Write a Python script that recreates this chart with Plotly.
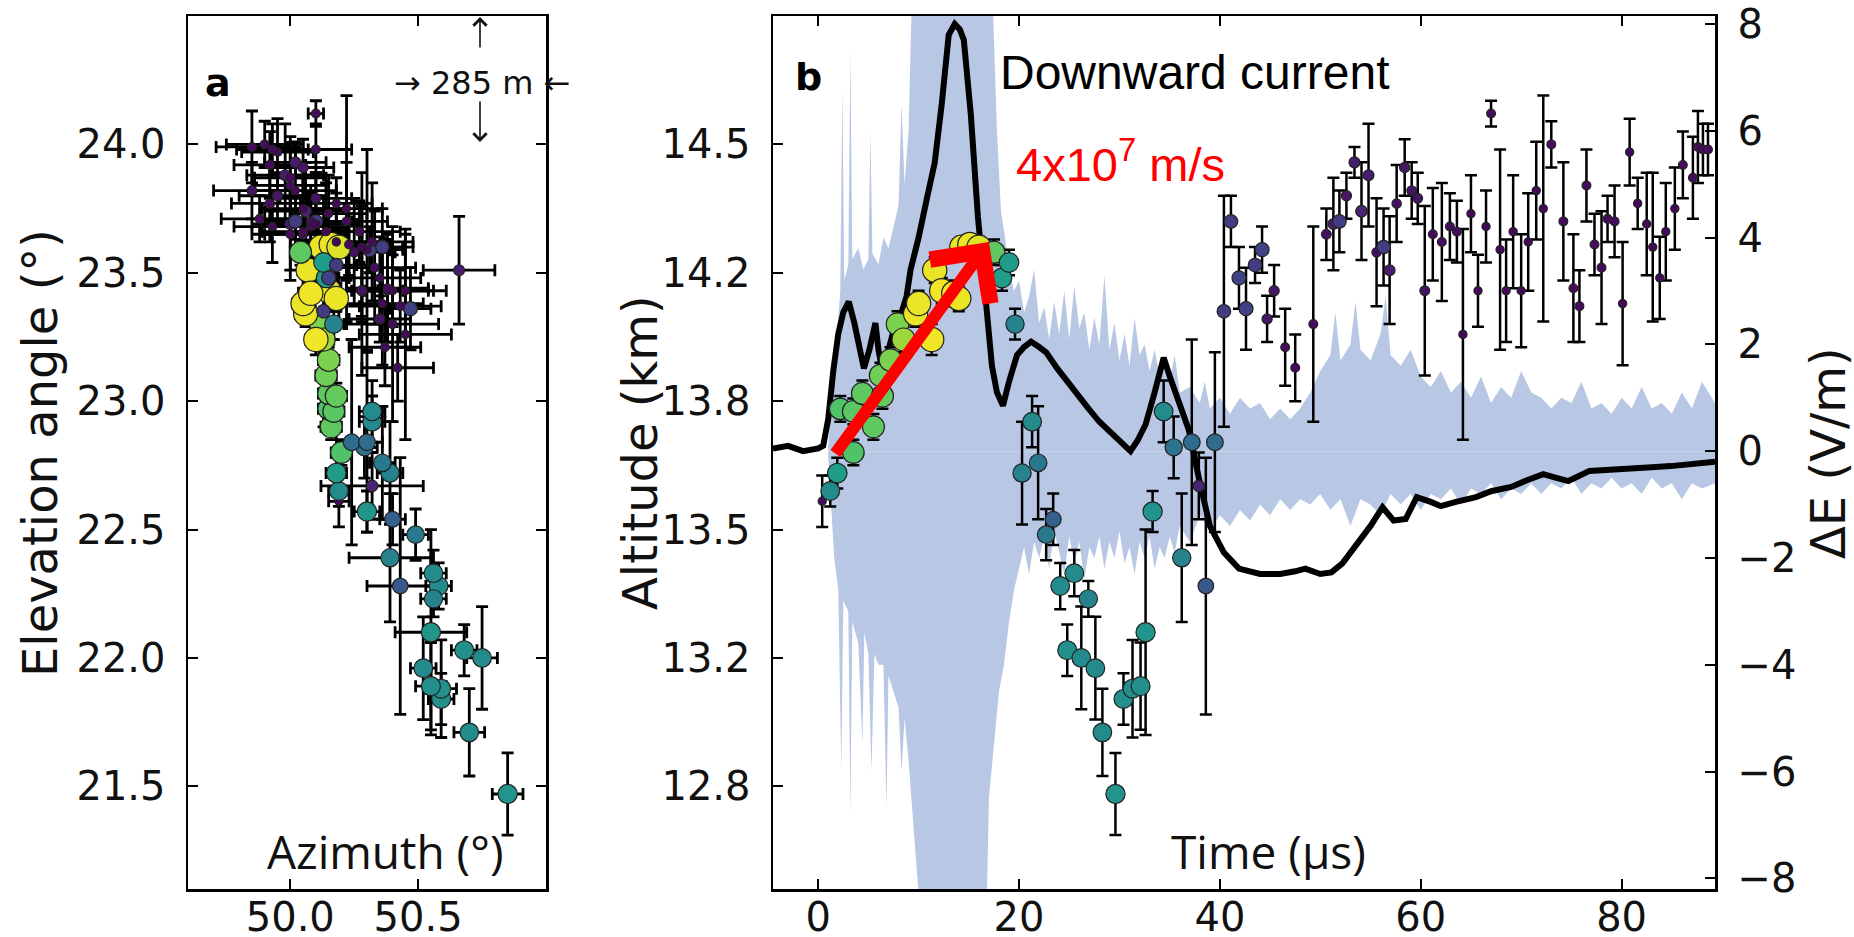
import math
import plotly.graph_objects as go

W, H = 1854, 937

# ---------------- source data (time, elevation, azimuth, errors, power) ----------------
src_t = [0.4, 1.2, 1.9, 3.5, 5.5, 2.2, 3.5, 4.4, 6.4, 6.2, 7.2, 7.9, 8.5, 9.7, 10.0, 11.3, 11.6, 12.3,
         13.5, 14.0, 14.3, 15.1, 16.0, 17.5, 18.3, 19.0, 19.6,
         20.3, 21.3, 21.9, 22.7, 23.4, 24.1, 25.5, 26.9, 24.8, 26.2, 27.6, 28.3, 29.6, 30.4, 31.3, 32.1,
         32.6, 33.3, 34.4, 35.4, 36.2, 37.2, 37.9, 38.6, 39.5,
         40.4, 41.1, 41.9, 42.6, 43.5, 44.2, 44.7, 45.4, 46.5, 47.5, 49.3, 50.6, 51.3, 51.9, 52.6, 53.4,
         54.1, 54.8, 55.6, 56.3, 56.9, 57.6, 58.4, 59.1, 59.7, 60.4, 61.2, 62.1, 62.9, 63.6, 64.2, 65.0,
         65.7, 66.5, 67.0, 67.9, 68.5, 69.2, 70.0, 70.7, 71.5, 72.2, 73.0, 74.2, 75.2, 75.8, 76.5, 77.3,
         78.0, 78.6, 79.3, 80.1, 80.8, 81.6, 82.5, 83.1, 83.8, 84.4, 85.3, 86.1, 87.1, 87.6, 88.1, 88.6]
src_elev = [22.61, 22.65, 22.72, 22.80, 22.90, 22.97, 22.96, 23.03, 23.02, 23.10, 23.16, 23.30, 23.24, 23.34,
            23.38, 23.24, 23.51, 23.43, 23.42, 23.40, 23.60, 23.61, 23.60, 23.58, 23.48, 23.54, 23.30,
            22.72, 22.92, 22.76, 22.48, 22.54, 22.28, 22.33, 22.23, 22.03, 22.00, 21.96, 21.71, 21.47, 21.84,
            21.88, 21.89, 22.10, 22.57, 22.96, 22.82, 22.39, 22.84, 22.67, 22.28, 22.84,
            23.35, 23.70, 23.48, 23.36, 23.53, 23.59, 23.32, 23.43, 23.21, 23.13, 23.30, 23.65, 23.69, 23.70,
            23.80, 23.93, 23.74, 23.88, 23.58, 23.60, 23.51, 23.77, 23.91, 23.82, 23.79, 23.43, 23.65, 23.62,
            23.68, 23.66, 23.26, 23.73, 23.43, 23.68, 24.12, 23.59, 23.43, 23.66, 23.43, 23.62, 23.82, 23.75,
            24.00, 23.70, 23.44, 23.37, 23.84, 23.61, 23.52, 23.71, 23.70, 23.38, 23.97, 23.77, 23.69, 23.60,
            23.48, 23.66, 23.75, 23.92, 23.87, 23.99, 23.98, 23.98]
src_elev_err = [0.10, 0.06, 0.06, 0.05, 0.05, 0.05, 0.05, 0.05, 0.05, 0.05, 0.05, 0.05, 0.05, 0.05, 0.05, 0.06,
                0.05, 0.05, 0.05, 0.05, 0.04, 0.04, 0.04, 0.05, 0.05, 0.05, 0.06,
                0.20, 0.10, 0.22, 0.10, 0.10, 0.09, 0.09, 0.07, 0.10, 0.20, 0.20, 0.17, 0.16, 0.10, 0.19, 0.17,
                0.40, 0.08, 0.12, 0.12, 0.25, 0.40, 0.13, 0.50, 0.35,
                0.45, 0.10, 0.12, 0.16, 0.07, 0.09, 0.09, 0.10, 0.15, 0.13, 0.38, 0.10, 0.18, 0.12, 0.09, 0.06,
                0.19, 0.20, 0.21, 0.15, 0.21, 0.15, 0.11, 0.11, 0.10, 0.33, 0.18, 0.23, 0.13, 0.12, 0.41, 0.15,
                0.14, 0.14, 0.05, 0.39, 0.20, 0.22, 0.22, 0.19, 0.19, 0.44, 0.09, 0.23, 0.21, 0.14, 0.14, 0.12,
                0.22, 0.09, 0.14, 0.24, 0.13, 0.10, 0.20, 0.29, 0.16, 0.19, 0.16, 0.13, 0.16, 0.14, 0.10, 0.10]
src_azim = [50.19, 50.19, 50.18, 50.20, 50.16, 50.15, 50.17, 50.15, 50.18, 50.14, 50.15, 50.12, 50.13, 50.06,
            50.05, 50.10, 50.07, 50.15, 50.08, 50.18, 50.12, 50.16, 50.19, 50.04, 50.14, 50.13, 50.17,
            50.39, 50.32, 50.36, 50.49, 50.40, 50.58, 50.56, 50.56, 50.68, 50.75, 50.52, 50.70, 50.85, 50.59,
            50.59, 50.55, 50.55, 50.30, 50.32, 50.29, 50.39, 50.24, 50.32, 50.43, 50.30,
            50.13, 50.10, 50.15, 50.47, 50.18, 50.31, 50.35, 50.28, 50.37, 50.42, 50.40, 50.05, 50.00, 50.02,
            49.95, 50.02, 50.06, 49.98, 50.25, 50.36, 50.66, 49.92, 50.05, 49.85, 50.10, 50.28, 50.00, 50.32,
            50.08, 50.27, 50.45, 50.15, 50.40, 49.93, 50.10, 50.30, 50.38, 50.05, 50.45, 50.18, 50.02, 50.22,
            49.90, 50.22, 50.38, 50.43, 50.00, 50.23, 50.33, 49.88, 50.08, 50.36, 49.95, 50.18, 50.10, 50.28,
            50.35, 50.14, 50.05, 49.92, 50.00, 49.85, 49.93, 50.10]
src_azim_err = [0.04, 0.04, 0.04, 0.04, 0.04, 0.04, 0.04, 0.04, 0.04, 0.04, 0.04, 0.04, 0.04, 0.04, 0.04, 0.04,
                0.04, 0.04, 0.04, 0.04, 0.04, 0.04, 0.04, 0.04, 0.04, 0.04, 0.04,
                0.05, 0.05, 0.05, 0.05, 0.05, 0.05, 0.05, 0.05, 0.05, 0.06, 0.05, 0.06, 0.06, 0.05, 0.06, 0.06,
                0.14, 0.05, 0.05, 0.05, 0.16, 0.06, 0.20, 0.13, 0.06,
                0.06, 0.08, 0.08, 0.08, 0.08, 0.08, 0.12, 0.12, 0.14, 0.14, 0.18, 0.15, 0.15, 0.12, 0.15, 0.12,
                0.16, 0.15, 0.16, 0.12, 0.14, 0.15, 0.12, 0.15, 0.14, 0.16, 0.15, 0.16, 0.14, 0.16, 0.18, 0.15,
                0.16, 0.15, 0.03, 0.14, 0.16, 0.16, 0.16, 0.14, 0.16, 0.14, 0.15, 0.16, 0.16, 0.16, 0.14, 0.16,
                0.16, 0.15, 0.16, 0.16, 0.14, 0.14, 0.16, 0.16, 0.16, 0.14, 0.16, 0.14, 0.14, 0.14, 0.14, 0.14]
src_power = [0.02, 0.48, 0.55, 0.72, 0.75, 0.72, 0.74, 0.75, 0.76, 0.78, 0.80, 0.80, 0.85, 0.97, 0.97, 0.98,
             0.97, 0.98, 0.98, 0.97, 0.97, 0.97, 0.95, 0.75, 0.55, 0.55, 0.45,
             0.45, 0.48, 0.40, 0.40, 0.30, 0.48, 0.48, 0.45, 0.50, 0.48, 0.48, 0.48, 0.52, 0.50, 0.50, 0.50,
             0.52, 0.52, 0.48, 0.38, 0.45, 0.35, 0.10, 0.28, 0.35,
             0.18, 0.18, 0.20, 0.20, 0.18, 0.20, 0.06, 0.06, 0.03, 0.03, 0.03, 0.05, 0.08, 0.18, 0.06, 0.08,
             0.10, 0.08, 0.04, 0.18, 0.08, 0.04, 0.06, 0.05, 0.05, 0.05, 0.03, 0.03, 0.03, 0.03, 0.02, 0.02,
             0.02, 0.02, 0.03, 0.02, 0.02, 0.02, 0.02, 0.02, 0.02, 0.02, 0.03, 0.03, 0.03, 0.03, 0.03, 0.03,
             0.03, 0.03, 0.03, 0.02, 0.02, 0.02, 0.02, 0.02, 0.02, 0.02, 0.02, 0.03, 0.03, 0.03, 0.03, 0.03]

# ---------------- electric field change (black line, right axis) ----------------
de_t = [-4.5, -3.0, -1.5, 0.0, 0.5, 1.0, 1.5, 2.0, 2.5, 3.05, 3.6, 4.1, 4.55, 5.1, 5.7, 6.0, 6.4, 7.0, 7.7,
        8.3, 8.8, 9.2, 10.0, 10.9, 11.6, 12.3, 13.0, 13.6, 14.1, 14.5, 15.2, 15.9, 16.6, 17.3, 17.8, 18.4,
        19.0, 19.8, 20.5, 21.2, 22.0, 22.7, 23.8, 24.8, 25.8, 26.9, 28.0, 29.1, 30.1, 31.1, 31.8, 32.6, 33.5,
        34.4, 35.1, 35.8, 36.9, 37.9, 39.0, 40.4, 41.9, 44.0, 46.0, 47.5, 48.5, 50.0, 51.1, 52.2, 53.2, 54.0,
        55.0, 56.2, 57.3, 58.5, 59.6, 61.0, 62.0, 63.5, 65.5, 67.0, 69.0, 70.5, 72.2, 73.5, 74.7, 76.8, 78.0,
        79.5, 81.4, 83.0, 84.9, 87.0, 88.8, 89.3]
de_val = [0.05, 0.1, 0.0, 0.05, 0.1, 0.6, 1.5, 2.2, 2.6, 2.8, 2.4, 1.9, 1.55, 1.9, 2.4, 1.9, 1.5, 1.9, 2.4,
          2.6, 2.9, 3.4, 4.0, 4.8, 5.4, 6.5, 7.8, 8.0, 7.9, 7.7, 6.3, 4.4, 2.85, 1.6, 1.1, 0.85, 1.3, 1.8, 1.95,
          2.05, 1.95, 1.85, 1.55, 1.3, 1.05, 0.8, 0.55, 0.35, 0.15, 0.0, 0.2, 0.5, 1.1, 1.75, 1.35, 0.95, 0.4,
          -0.5, -1.4, -1.9, -2.2, -2.3, -2.3, -2.25, -2.2, -2.3, -2.27, -2.1, -1.85, -1.65, -1.4, -1.05, -1.3,
          -1.27, -0.86, -0.95, -1.03, -0.95, -0.86, -0.75, -0.67, -0.55, -0.43, -0.5, -0.56, -0.37, -0.36,
          -0.34, -0.34, -0.3, -0.28, -0.24, -0.2, -0.2]

# ---------------- light-blue signal envelope (right axis) ----------------
band_hi_t = [1.0, 1.4, 1.8, 2.2, 2.4, 2.6, 3.0, 3.2, 3.4, 4.0, 4.5, 5.0, 5.2, 5.4, 6.0, 6.5, 7.0, 7.5, 8.0,
             8.3, 8.6, 9.0, 9.3, 17.4, 17.8, 18.2, 18.6, 19.0, 19.5, 20.0, 20.5, 21.0, 21.5, 22.0, 22.5, 23.0,
             23.5, 24.0, 24.5, 25.0, 25.5, 26.0, 26.5, 27.0, 27.5, 28.0, 28.5, 29.0, 29.5, 30.0, 30.5, 31.0,
             31.5, 32.0, 32.5, 33.0, 33.5, 34.0, 34.5, 35.0, 35.5, 36.0, 37.0, 38.0, 38.5, 39.0, 40.0, 41.0,
             42.0, 43.0, 44.0, 45.0, 46.0, 47.0, 48.0, 49.0, 50.0, 51.0, 51.5, 52.0, 53.0, 53.5, 54.0, 55.0,
             56.0, 56.5, 57.0, 58.0, 59.0, 60.0, 61.0, 62.0, 63.0, 64.0, 65.0, 66.0, 67.0, 68.0, 69.0, 70.0,
             71.0, 72.0, 73.0, 74.0, 75.0, 76.0, 77.0, 78.0, 79.0, 80.0, 81.0, 82.0, 83.0, 84.0, 85.0, 86.0,
             87.0, 88.0, 89.3]
band_hi = [0.1, 1.0, 2.0, 3.0, 6.8, 3.2, 3.5, 7.5, 3.6, 3.8, 3.4, 3.6, 6.0, 3.7, 3.5, 4.0, 3.8, 4.2, 4.6,
           6.5, 5.0, 6.0, 8.3, 8.3, 6.0, 4.5, 4.0, 3.4, 3.0, 3.2, 2.6, 2.9, 3.4, 2.4, 2.7, 2.1, 2.8, 2.2, 3.0,
           2.1, 3.1, 2.3, 2.6, 1.9, 2.5, 2.0, 3.3, 1.9, 2.4, 1.7, 2.2, 1.6, 2.5, 1.8, 2.0, 1.5, 1.9, 1.4, 1.7,
           1.3, 1.8, 1.1, 1.2, 0.9, 1.3, 0.8, 1.0, 0.7, 1.0, 0.8, 0.9, 0.6, 0.8, 0.6, 0.8, 1.1, 1.5, 1.8, 2.6,
           1.7, 2.0, 2.8, 1.9, 1.7, 2.2, 2.9, 1.8, 1.6, 1.9, 1.4, 1.2, 1.5, 1.1, 1.3, 1.0, 1.4, 0.9, 1.2, 1.0,
           1.5, 1.1, 1.0, 0.8, 1.0, 0.9, 1.3, 0.8, 0.9, 0.7, 1.0, 0.8, 1.2, 0.8, 0.9, 0.7, 1.1, 0.8, 1.3, 0.9]
band_lo_t = [1.0, 1.3, 1.6, 2.0, 2.3, 2.5, 3.0, 3.2, 3.4, 4.0, 4.4, 4.6, 5.0, 5.3, 5.6, 6.0, 6.5, 6.8, 7.0,
             7.5, 8.0, 8.3, 8.6, 9.0, 9.5, 10.0, 16.8, 17.0, 17.5, 18.0, 18.5, 19.0, 19.5, 20.0, 20.5, 21.0,
             21.5, 22.0, 22.5, 23.0, 23.5, 24.0, 24.5, 25.0, 25.5, 26.0, 26.5, 27.0, 27.5, 28.0, 28.5, 29.0,
             29.5, 30.0, 30.5, 31.0, 31.5, 32.0, 32.5, 33.0, 33.5, 34.0, 34.5, 35.0, 35.5, 36.0, 37.0, 38.0,
             39.0, 40.0, 41.0, 42.0, 43.0, 44.0, 45.0, 46.0, 47.0, 48.0, 49.0, 50.0, 51.0, 52.0, 53.0, 54.0,
             55.0, 56.0, 57.0, 58.0, 59.0, 60.0, 61.0, 62.0, 63.0, 64.0, 65.0, 66.0, 67.0, 68.0, 69.0, 70.0,
             71.0, 72.0, 73.0, 74.0, 75.0, 76.0, 77.0, 78.0, 79.0, 80.0, 81.0, 82.0, 83.0, 84.0, 85.0, 86.0,
             87.0, 88.0, 89.3]
band_lo = [-0.1, -1.0, -2.0, -2.6, -6.0, -2.8, -3.0, -6.8, -3.2, -3.6, -5.5, -3.4, -3.8, -6.0, -3.8, -4.0,
           -4.0, -6.7, -4.2, -4.5, -4.8, -6.0, -5.0, -5.8, -7.0, -8.3, -8.3, -6.5, -5.5, -4.5, -4.0, -3.2, -2.6,
           -2.2, -1.8, -2.3, -1.7, -2.0, -1.6, -2.2, -1.5, -1.9, -2.3, -1.6, -2.1, -1.7, -2.4, -1.8, -2.0, -1.6,
           -2.2, -1.7, -2.0, -1.5, -2.1, -1.8, -2.3, -1.7, -2.0, -1.6, -2.2, -1.8, -2.0, -1.6, -1.9, -1.4, -1.7,
           -1.2, -1.5, -1.2, -1.4, -1.1, -1.3, -1.0, -1.2, -0.9, -1.1, -0.9, -1.0, -0.8, -1.1, -0.9, -1.4, -0.9,
           -1.0, -1.2, -0.8, -1.0, -0.8, -1.1, -0.8, -0.9, -0.7, -1.0, -0.7, -0.8, -0.6, -0.9, -0.7, -0.8, -0.6,
           -0.8, -0.6, -0.7, -0.5, -0.8, -0.6, -0.7, -0.5, -0.7, -0.6, -0.8, -0.5, -0.7, -0.6, -0.9, -0.6, -0.7,
           -0.6]

# ---------------- axis ticks ----------------
azim_ticks = [50.0, 50.5]
elev_ticks = [21.5, 22.0, 22.5, 23.0, 23.5, 24.0]
alt_tick_labels = ["12.8", "13.2", "13.5", "13.8", "14.2", "14.5"]
time_ticks = [0, 20, 40, 60, 80]
de_ticks = [-8, -6, -4, -2, 0, 2, 4, 6, 8]

# arrow (velocity estimate) from / to, in (time, elevation)
arrow_from = (1.6, 22.79)
arrow_to = (17.0, 23.62)

# ---------------- helpers ----------------
def fx(px):
    return px / W

def fy(py):
    return 1 - py / H

sizes = [5.5 + 19 * math.sqrt(p) for p in src_power]
TICKFONT = dict(family="DejaVu Sans", size=40, color="#111")

def ax_style(**kw):
    d = dict(showline=True, linecolor="black", linewidth=2.5, ticks="inside", ticklen=10,
             tickwidth=2, tickcolor="black", showgrid=False, zeroline=False, tickfont=TICKFONT,
             ticklabelstandoff=12, automargin=False)
    d.update(kw)
    return d

marker_common = dict(color=src_power, colorscale="Viridis", cmin=0, cmax=1, size=sizes,
                     line=dict(color="#222222", width=1.2), opacity=1)

fig = go.Figure()

# Panel a: azimuth vs elevation
fig.add_trace(go.Scatter(
    x=src_azim, y=src_elev, mode="markers", xaxis="x", yaxis="y",
    error_x=dict(type="data", array=src_azim_err, color="black", thickness=2.8, width=6),
    error_y=dict(type="data", array=src_elev_err, color="black", thickness=2.8, width=6),
    marker=marker_common, hoverinfo="skip"))

# Panel b: band (upper and lower envelopes), on ΔE axis
band_color = "rgb(184,200,228)"
fig.add_trace(go.Scatter(x=band_hi_t, y=band_hi, xaxis="x2", yaxis="y2", mode="lines",
                         line=dict(width=0, color=band_color), fill="tozeroy", fillcolor=band_color,
                         hoverinfo="skip"))
fig.add_trace(go.Scatter(x=band_lo_t, y=band_lo, xaxis="x2", yaxis="y2", mode="lines",
                         line=dict(width=0, color=band_color), fill="tozeroy", fillcolor=band_color,
                         hoverinfo="skip"))
# ΔE black line
fig.add_trace(go.Scatter(x=de_t, y=de_val, xaxis="x2", yaxis="y2", mode="lines",
                         line=dict(color="black", width=6), hoverinfo="skip"))
# sources in time (on elevation axis overlaying)
fig.add_trace(go.Scatter(
    x=src_t, y=src_elev, mode="markers", xaxis="x2", yaxis="y3",
    error_y=dict(type="data", array=src_elev_err, color="black", thickness=2.5, width=6),
    marker=marker_common, hoverinfo="skip"))

dom_y = [fy(889), fy(16)]
fig.update_layout(
    width=W, height=H, margin=dict(l=0, r=0, t=0, b=0, autoexpand=False),
    paper_bgcolor="white", plot_bgcolor="white", showlegend=False,
    xaxis=ax_style(domain=[fx(188), fx(546)], range=[49.6, 51.0], tickvals=azim_ticks,
                   ticktext=[f"{v:.1f}" for v in azim_ticks], mirror="ticks", anchor="y",
                   ticklabelstandoff=-9),
    yaxis=ax_style(domain=dom_y, range=[21.1, 24.5], tickvals=elev_ticks,
                   ticktext=[f"{v:.1f}" for v in elev_ticks], mirror="ticks", anchor="x"),
    xaxis2=ax_style(domain=[fx(773), fx(1715)], range=[-4.5, 89.3], tickvals=time_ticks,
                    ticktext=[str(v) for v in time_ticks], mirror="ticks", anchor="y2",
                    ticklabelstandoff=-9),
    yaxis2=ax_style(domain=dom_y, range=[-8.2, 8.15], tickvals=de_ticks,
                    ticktext=[("\u2212" + str(-v)) if v < 0 else str(v) for v in de_ticks],
                    side="right", anchor="x2"),
    yaxis3=ax_style(range=[21.1, 24.5], tickvals=elev_ticks, ticktext=alt_tick_labels,
                    overlaying="y2", side="left", anchor="x2"),
)

ann = []
def text(x, y, s, size, family="DejaVu Sans", color="#111", angle=0, **kw):
    ann.append(dict(x=fx(x), y=fy(y), xref="paper", yref="paper", text=s, showarrow=False,
                    font=dict(family=family, size=size, color=color), textangle=angle,
                    xanchor="center", yanchor="middle", **kw))

text(40, 453, "Elevation angle (°)", 48, angle=-90)
text(640, 453, "Altitude (km)", 48, angle=-90)
text(1828, 453, "ΔE (V/m)", 48, angle=-90)
text(218, 83, "<b>a</b>", 38, color="black")
text(808, 77, "<b>b</b>", 38, color="black")
text(482, 83, "→ 285 m ←", 32)
text(385, 851, "Azimuth (°)", 46, family="Open Sans")
text(1268, 851, "Time (µs)", 46, family="Open Sans")
text(1194, 72, "Downward current", 48, family="Liberation Sans", color="black")
text(1120, 161, "4x10<sup>7</sup> m/s", 47, family="Liberation Sans", color="red")

# small scale arrows near the 285 m label
ann.append(dict(x=fx(480), y=fy(17), xref="paper", yref="paper", text="", showarrow=True,
                ax=0, ay=32, arrowhead=4, arrowsize=1.6, arrowwidth=1.6, arrowcolor="#111"))
ann.append(dict(x=fx(480), y=fy(142), xref="paper", yref="paper", text="", showarrow=True,
                ax=0, ay=-42, arrowhead=4, arrowsize=1.6, arrowwidth=1.6, arrowcolor="#111"))

# red velocity arrow
ann.append(dict(x=arrow_to[0], y=arrow_to[1], xref="x2", yref="y3",
                ax=arrow_from[0], ay=arrow_from[1], axref="x2", ayref="y3",
                text="", showarrow=True, arrowhead=4, arrowsize=1.2, arrowwidth=12,
                arrowcolor="red"))

fig.update_layout(annotations=ann)
fig.write_html("out.html", config={"displayModeBar": False, "staticPlot": True},
               post_script="document.body.style.margin='0';document.body.style.overflow='hidden';")
